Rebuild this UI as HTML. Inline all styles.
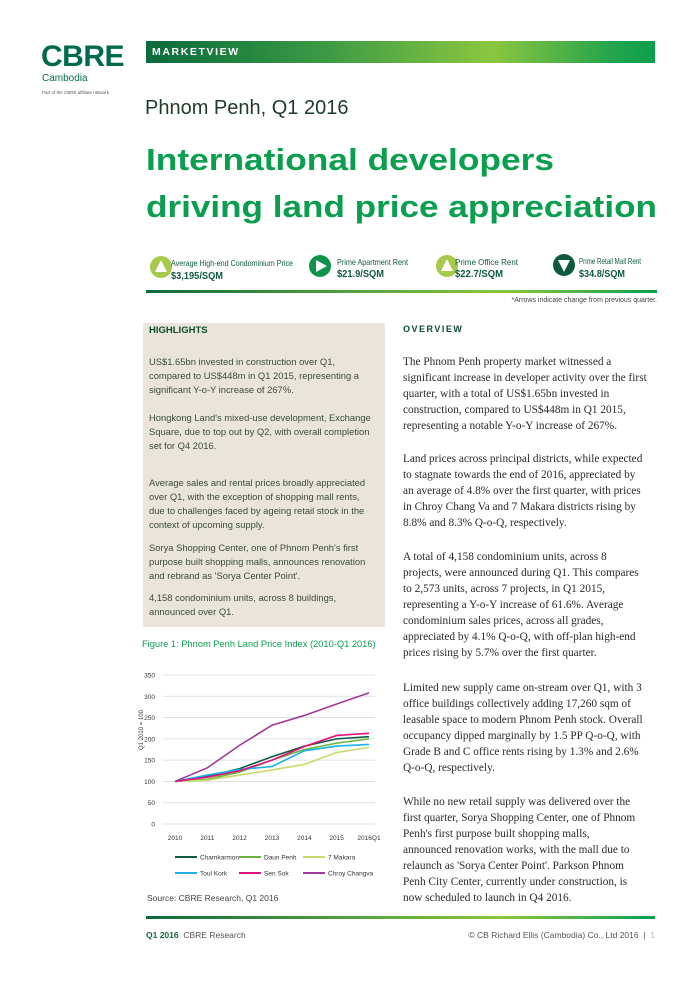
<!DOCTYPE html>
<html><head><meta charset="utf-8">
<style>
body{margin:0;width:694px;height:981px;background:#fff;position:relative;overflow:hidden;font-family:"Liberation Sans",sans-serif}
.a{position:absolute;white-space:nowrap}
.hl{font-size:9.4px;color:#3a4a3c;line-height:14px}
.ov{font-family:"Liberation Serif",serif;font-size:11.3px;color:#2a2a2a;line-height:16px}
</style></head><body>
<div class="a" style="left:41px;top:40px;font-size:30px;font-weight:bold;color:#006a4d;letter-spacing:-0.5px">CBRE</div>
<div class="a" style="left:42px;top:73px;font-size:10px;color:#006a4d">Cambodia</div>
<div class="a" style="left:42px;top:90px;font-size:4.5px;color:#555">Part of the CBRE affiliate network</div>
<div class="a" style="left:146px;top:41px;width:509px;height:22px;background:linear-gradient(90deg,#0a6b3c 0%,#3b9a45 35%,#8cc63f 68%,#2aa64b 90%,#0c9e4f 100%)"></div>
<div class="a" style="left:152px;top:46px;font-size:10.5px;font-weight:bold;color:#fff;letter-spacing:1.6px">MARKETVIEW</div>
<div class="a" style="left:145px;top:97px;font-size:20px;color:#1f3a2a">Phnom Penh, Q1 2016</div>
<svg class="a" style="left:0;top:0" width="694" height="240">
<text x="146" y="170" font-family="Liberation Sans" font-weight="bold" font-size="31" fill="#0a9e4f" textLength="408" lengthAdjust="spacingAndGlyphs">International developers</text>
<text x="146" y="217" font-family="Liberation Sans" font-weight="bold" font-size="31" fill="#0a9e4f" textLength="511" lengthAdjust="spacingAndGlyphs">driving land price appreciation</text>
</svg>
<svg class="a" style="left:0;top:250px" width="694" height="60">
<circle cx="161" cy="17" r="11" fill="#a8c94b"/><polygon points="161,10 167,22 155,22" fill="#fff"/>
<circle cx="320" cy="16" r="11" fill="#0f9449"/><polygon points="316,10 327,16 316,22" fill="#fff"/>
<circle cx="447" cy="16" r="11" fill="#a8c94b"/><polygon points="447,9 453,21 441,21" fill="#fff"/>
<circle cx="564" cy="15" r="11" fill="#0d5b3c"/><polygon points="558,10 570,10 564,22" fill="#fff"/>
<g font-family="Liberation Sans" fill="#0d5b3c" lengthAdjust="spacingAndGlyphs">
<text x="171" y="16" font-size="8.5" textLength="122" lengthAdjust="spacingAndGlyphs">Average High-end Condominium Price</text><text x="171" y="29" font-size="10" font-weight="bold" textLength="52" lengthAdjust="spacingAndGlyphs">$3,195/SQM</text>
<text x="337" y="15" font-size="8.5" textLength="71" lengthAdjust="spacingAndGlyphs">Prime Apartment Rent</text><text x="337" y="27" font-size="10" font-weight="bold" textLength="47" lengthAdjust="spacingAndGlyphs">$21.9/SQM</text>
<text x="455" y="15" font-size="8.5" textLength="63" lengthAdjust="spacingAndGlyphs">Prime Office Rent</text><text x="455" y="27" font-size="10" font-weight="bold" textLength="48" lengthAdjust="spacingAndGlyphs">$22.7/SQM</text>
<text x="579" y="14" font-size="8.5" textLength="62" lengthAdjust="spacingAndGlyphs">Prime Retail Mall Rent</text><text x="579" y="27" font-size="10" font-weight="bold" textLength="46" lengthAdjust="spacingAndGlyphs">$34.8/SQM</text>
</g>
<defs><linearGradient id="g1"><stop offset="0" stop-color="#0a6b3c"/><stop offset="0.7" stop-color="#8cc63f"/><stop offset="1" stop-color="#0c9e4f"/></linearGradient></defs>
<rect x="146" y="40" width="511" height="3" fill="url(#g1)"/>
<text x="657" y="52" font-size="7" text-anchor="end" fill="#444" font-family="Liberation Sans">*Arrows indicate change from previous quarter.</text>
</svg>

<div class="a" style="left:143px;top:323px;width:242px;height:304px;background:#e9e5dc"></div>
<div class="a" style="left:149px;top:325px;font-size:9.5px;font-weight:bold;color:#0d4a2e">HIGHLIGHTS</div>
<div class="a hl" style="left:149px;top:355px">US$1.65bn invested in construction over Q1,<br>compared to US$448m in Q1 2015, representing a<br>significant Y-o-Y increase of 267%.</div>
<div class="a hl" style="left:149px;top:411px">Hongkong Land's mixed-use development, Exchange<br>Square, due to top out by Q2, with overall completion<br>set for Q4 2016.</div>
<div class="a hl" style="left:149px;top:476px">Average sales and rental prices broadly appreciated<br>over Q1, with the exception of shopping mall rents,<br>due to challenges faced by ageing retail stock in the<br>context of upcoming supply.</div>
<div class="a hl" style="left:149px;top:541px">Sorya Shopping Center, one of Phnom Penh's first<br>purpose built shopping malls, announces renovation<br>and rebrand as 'Sorya Center Point'.</div>
<div class="a hl" style="left:149px;top:591px">4,158 condominium units, across 8 buildings,<br>announced over Q1.</div>

<div class="a" style="left:403px;top:324px;font-size:9px;font-weight:bold;color:#0d4a2e;letter-spacing:1.5px">OVERVIEW</div>
<div class="a ov" style="left:403px;top:354px">The Phnom Penh property market witnessed a<br>significant increase in developer activity over the first<br>quarter, with a total of US$1.65bn invested in<br>construction, compared to US$448m in Q1 2015,<br>representing a notable Y-o-Y increase of 267%.</div>
<div class="a ov" style="left:403px;top:451px">Land prices across principal districts, while expected<br>to stagnate towards the end of 2016, appreciated by<br>an average of 4.8% over the first quarter, with prices<br>in Chroy Chang Va and 7 Makara districts rising by<br>8.8% and 8.3% Q-o-Q, respectively.</div>
<div class="a ov" style="left:403px;top:549px">A total of 4,158 condominium units, across 8<br>projects, were announced during Q1. This compares<br>to 2,573 units, across 7 projects, in Q1 2015,<br>representing a Y-o-Y increase of 61.6%. Average<br>condominium sales prices, across all grades,<br>appreciated by 4.1% Q-o-Q, with off-plan high-end<br>prices rising by 5.7% over the first quarter.</div>
<div class="a ov" style="left:403px;top:680px">Limited new supply came on-stream over Q1, with 3<br>office buildings collectively adding 17,260 sqm of<br>leasable space to modern Phnom Penh stock. Overall<br>occupancy dipped marginally by 1.5 PP Q-o-Q, with<br>Grade B and C office rents rising by 1.3% and 2.6%<br>Q-o-Q, respectively.</div>
<div class="a ov" style="left:403px;top:794px">While no new retail supply was delivered over the<br>first quarter, Sorya Shopping Center, one of Phnom<br>Penh's first purpose built shopping malls,<br>announced renovation works, with the mall due to<br>relaunch as 'Sorya Center Point'. Parkson Phnom<br>Penh City Center, currently under construction, is<br>now scheduled to launch in Q4 2016.</div>

<div class="a" style="left:142px;top:639px;font-size:9.3px;color:#0a9e4f">Figure 1: Phnom Penh Land Price Index (2010-Q1 2016)</div>
<svg id="chart" class="a" style="left:0;top:0" width="694" height="981"></svg>
<div class="a" style="left:147px;top:893px;font-size:8.5px;color:#444">Source: CBRE Research, Q1 2016</div>

<div class="a" style="left:146px;top:916px;width:509px;height:3px;background:linear-gradient(90deg,#0a6b3c 0%,#8cc63f 70%,#0c9e4f 100%)"></div>
<div class="a" style="left:146px;top:930px;font-size:8.5px;color:#555"><b style="color:#0d6b3c">Q1 2016</b>&nbsp; CBRE Research</div>
<div class="a" style="right:39px;top:930px;font-size:8.5px;color:#555">© CB Richard Ellis (Cambodia) Co., Ltd 2016 &nbsp;|&nbsp; <span style="color:#bbb">1</span></div>

<script>
const categories=["2010","2011","2012","2013","2014","2015","2016Q1"];
const yTicks=[0,50,100,150,200,250,300,350];
const seriesNames=["Chamkarmon","Daun Penh","7 Makara","Toul Kork","Sen Sok","Chroy Changva"];
const seriesColors=["#0b5e3f","#6cb33f","#c6d96a","#1cb0e6","#e0117f","#a0399c"];
const chamkarmon=[100,112,130,158,183,200,205];
const daunPenh=[100,105,122,150,175,190,200];
const makara7=[100,103,115,127,140,168,180];
const toulKork=[100,115,128,135,172,183,187];
const senSok=[100,110,125,150,182,208,213];
const chroyChangva=[100,132,185,232,255,282,308];
const allSeries=[chamkarmon,daunPenh,makara7,toulKork,senSok,chroyChangva];
const svg=document.getElementById('chart');
const NS='http://www.w3.org/2000/svg';
const x0=175,x1=369,y0=824,y1=675;
const xS=i=>x0+(x1-x0)*i/(categories.length-1);
const yS=v=>y0-(y0-y1)*v/350;
function mk(t,a){const e=document.createElementNS(NS,t);for(const k in a)e.setAttribute(k,a[k]);svg.appendChild(e);return e;}
yTicks.forEach(v=>{
  const l=mk('line',{x1:163,x2:375,y1:yS(v),y2:yS(v),stroke:'#d9d9d9','stroke-width':0.8});
  
  
  const t=mk('text',{x:155,y:yS(v)+2.5,'font-size':6.5,'text-anchor':'end','font-family':'Liberation Sans',fill:'#333'});
  t.textContent=v;
  
  
});
categories.forEach((c,i)=>{
  const t=mk('text',{x:xS(i),y:840,'font-size':6.5,'text-anchor':'middle','font-family':'Liberation Sans',fill:'#333'});
  t.textContent=c;
  
  
});
const yt=mk('text',{x:0,y:0,'font-size':6,'text-anchor':'middle','font-family':'Liberation Sans',fill:'#333',transform:'translate(143,730) rotate(-90)'});
yt.textContent='Q1 2010 = 100';


allSeries.forEach((s,k)=>{
  const p=mk('polyline',{points:s.map((v,i)=>xS(i)+','+yS(v)).join(' '),fill:'none',stroke:seriesColors[k],'stroke-width':1.6});
  
  
  const col=k%3,row=Math.floor(k/3);
  const lx=175+col*64,ly=857+row*16;
  const l=mk('line',{x1:lx,x2:lx+22,y1:ly,y2:ly,stroke:seriesColors[k],'stroke-width':2});
  
  
  const t=mk('text',{x:lx+25,y:ly+2.5,'font-size':6.5,'font-family':'Liberation Sans',fill:'#333'});
  t.textContent=seriesNames[k];
  
  
});
</script>
</body></html>
